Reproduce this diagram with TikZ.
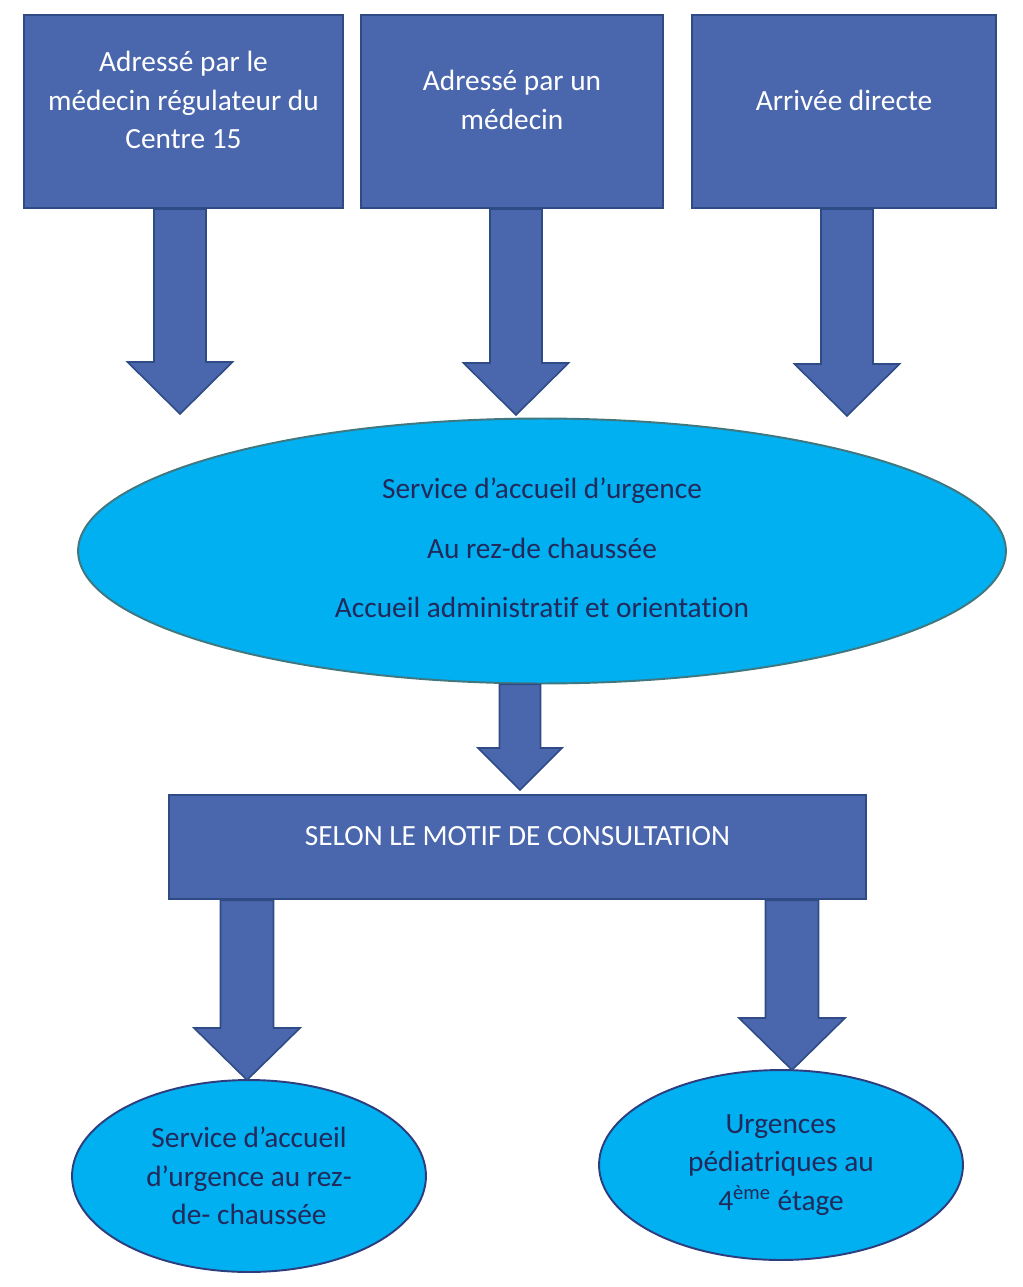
\documentclass[tikz,border=0pt]{standalone}
\usepackage{fontspec}
\setmainfont[Ligatures=NoCommon]{Carlito}
\usetikzlibrary{calc,shapes.geometric}
\definecolor{bleuboite}{HTML}{4A67AD}
\definecolor{bordboite}{HTML}{2F4B85}
\definecolor{ciel}{HTML}{00B0F0}
\definecolor{bordvert}{HTML}{41777F}
\definecolor{bordbleu}{HTML}{2E3D7E}
\definecolor{encre}{HTML}{23295B}
\tikzset{
  boite/.style={draw=bordboite,line width=1.4pt,fill=bleuboite,inner sep=0pt},
  bulle/.style={ellipse,draw=bordbleu,line width=1.1pt,fill=ciel,inner sep=0pt},
  blanc/.style={text=white,align=center,font=\fontsize{16.7}{22}\selectfont},
  sombre/.style={text=encre,align=center,font=\fontsize{16.7}{22}\selectfont},
  fleche/.style={draw=bordboite,line width=0.9pt,fill=bleuboite,line join=miter},
}
% #1 depart, #2 pointe, #3 demi-fut, #4 demi-tete, #5 longueur de tete
\newcommand{\flechebloc}[5]{%
  \draw[fleche] ($(#1)+(-#3,0)$) -- ($(#2)+(-#3,-#5)$) -- ($(#2)+(-#4,-#5)$) -- (#2)
    -- ($(#2)+(#4,-#5)$) -- ($(#2)+(#3,-#5)$) -- ($(#1)+(#3,0)$) -- cycle;}
\begin{document}
\begin{tikzpicture}[x=0.02cm,y=-0.02cm]
  \useasboundingbox (0,0) rectangle (1022,1287);
  %
  % les trois provenances
  \node[boite,minimum width=6.38cm,minimum height=3.86cm] (b1) at (183.5,111.5) {};
  \node[boite,minimum width=6.04cm,minimum height=3.86cm] (b2) at (512,111.5) {};
  \node[boite,minimum width=6.08cm,minimum height=3.86cm] (b3) at (844,111.5) {};
  \node[blanc] (t1) at (183.5,100) {Adressé par le\\médecin régulateur du\\Centre 15};
  \node[blanc] (t2) at (512,100) {Adressé par un\\médecin};
  \node[blanc] (t3) at (844,100) {Arrivée directe};
  %
  % accueil
  \node[bulle,draw=bordvert,minimum width=18.56cm,minimum height=5.3cm] (acc) at (542,551) {};
  \node[sombre] (tacc) at (542,548) {Service d’accueil d’urgence\\[12pt]Au rez-de chaussée\\[12pt]Accueil administratif et orientation};
  \coordinate (p1) at (180,414);
  \coordinate (p2) at (516,415);
  \coordinate (p3) at (847,416);
  \flechebloc{b1.south -| p1}{p1}{26}{52.5}{52}
  \flechebloc{b2.south -| p2}{p2}{26}{52.5}{52}
  \flechebloc{b3.south -| p3}{p3}{26}{52.5}{52}
  %
  % tri
  \node[boite,minimum width=13.94cm,minimum height=2.08cm] (motif) at (517.5,847) {};
  \node[blanc] (tmotif) at (517.5,836) {SELON LE MOTIF DE CONSULTATION};
  \coordinate (p4) at (520,790);
  \flechebloc{acc.south -| p4}{p4}{20.5}{42}{42}
  %
  % destinations
  \node[bulle,minimum width=7.08cm,minimum height=3.84cm] (rdc) at (249,1176) {};
  \node[bulle,minimum width=7.28cm,minimum height=3.8cm] (ped) at (781,1165) {};
  \node[sombre] (trdc) at (249,1176) {Service d’accueil\\d’urgence au rez-\\de- chaussée};
  \node[sombre] (tped) at (781,1165) {Urgences\\pédiatriques au\\4\textsuperscript{ème} étage};
  \coordinate (p5) at (247,1080);
  \coordinate (p6) at (792,1070);
  \flechebloc{motif.south -| p5}{p5}{26.5}{53}{52}
  \flechebloc{motif.south -| p6}{p6}{26.5}{53}{52}
\end{tikzpicture}
\end{document}
